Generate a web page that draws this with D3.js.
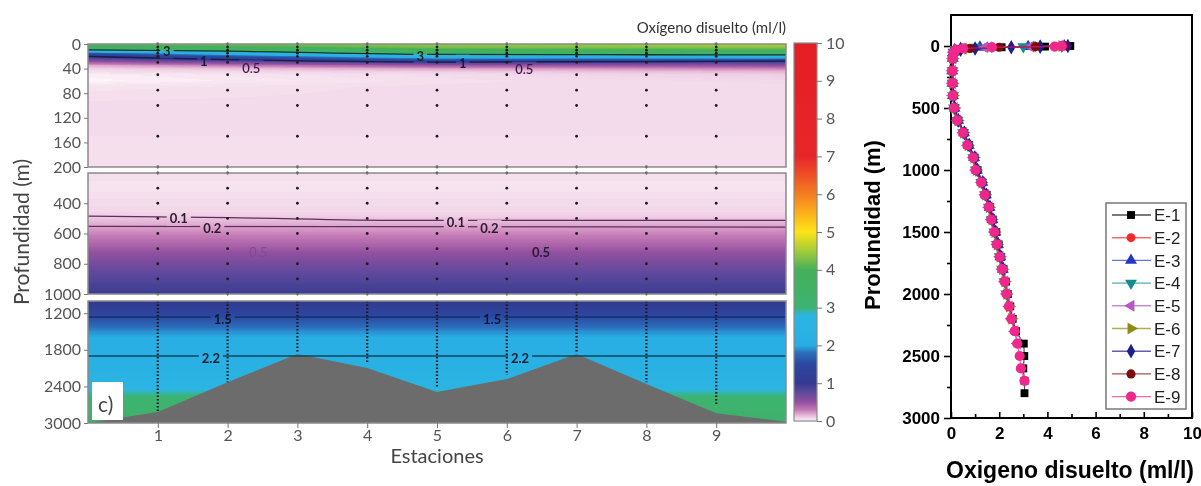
<!DOCTYPE html>
<html>
<head>
<meta charset="utf-8">
<script src="https://cdn.jsdelivr.net/npm/d3@7"></script>
<style>
body { margin: 0; background: #fff; }
svg { display: block; }
</style>
</head>
<body>
<svg id="chart" width="1201" height="486"></svg>
<script>
// ---- section data (left) ----
var stations = [1, 2, 3, 4, 5, 6, 7, 8, 9];
var stationBottom = [2820, 2330, 1840, 2020, 2400, 2210, 1850, 2330, 2700];
var sampleTop = [0, 5, 10, 15, 20, 30, 50, 75, 100, 150, 200];
var sampleMid = [200, 300, 400, 500, 600, 700, 800, 900, 1000];
var bathX = [0, 1, 2, 3, 4, 5, 6, 7, 8, 9, 10];
var bathDepth = [3000, 2820, 2330, 1870, 2100, 2490, 2280, 1870, 2360, 2840, 2980];

var tickTop = [0, 40, 80, 120, 160, 200];
var tickMid = [400, 600, 800, 1000];
var tickBot = [1200, 1800, 2400, 3000];

// oxygen field: profiles at west edge, centre and east edge of the section
var gridDepth = [0, 5, 10, 15, 20, 25, 30, 35, 40, 45, 50, 60, 70, 100, 200,
  300, 450, 485, 555, 620, 700, 800, 900, 1000,
  1100, 1200, 1300, 1400, 1500, 1600, 1800, 1900, 2100, 2300, 2400, 2500, 2600, 3000];
var o2West = [4.2, 3.7, 2.9, 1.6, 1.05, 0.7, 0.4, 0.18, 0.09, 0.05, 0.02, 0.01, 0.04, 0.06, 0.05,
  0.04, 0.07, 0.1, 0.2, 0.3, 0.45, 0.65, 0.82, 0.95,
  1.2, 1.4, 1.58, 1.75, 1.9, 2.0, 2.15, 2.2, 2.35, 2.55, 2.7, 2.9, 3.05, 3.3];
var o2Mid = [4.4, 4.3, 3.9, 3.4, 2.4, 1.7, 0.9, 0.45, 0.2, 0.1, 0.06, 0.05, 0.06, 0.06, 0.05,
  0.04, 0.07, 0.1, 0.2, 0.3, 0.45, 0.65, 0.82, 0.95,
  1.2, 1.4, 1.58, 1.75, 1.9, 2.0, 2.15, 2.2, 2.35, 2.55, 2.7, 2.9, 3.05, 3.3];
var o2East = [4.6, 4.4, 4.0, 3.5, 2.6, 1.6, 0.85, 0.5, 0.28, 0.15, 0.1, 0.07, 0.06, 0.06, 0.05,
  0.04, 0.07, 0.1, 0.2, 0.3, 0.45, 0.65, 0.82, 0.95,
  1.2, 1.4, 1.58, 1.75, 1.9, 2.0, 2.15, 2.2, 2.35, 2.55, 2.7, 2.9, 3.05, 3.3];

// contour lines (station, depth)
var c3X = [0, 2, 5, 8, 10], c3D = [9.4, 11.5, 17, 17.5, 17.8];
var c1X = [0, 2, 5, 8, 10], c1D = [20.2, 25.5, 29.4, 28.5, 28];
var c01X = [0, 2, 4.5, 10], c01D = [485, 495, 513, 513];
var c02X = [0, 10], c02D = [553, 558];
var c15X = [0, 10], c15D = [1265, 1265];
var c22X = [0, 10], c22D = [1902, 1902];

var contourLabels = [
  {t: "3", s: 1.13, d: 11.4, p: 0, w: 700, c: "#14261c"},
  {t: "1", s: 1.66, d: 29, p: 0, w: 700, c: "#151a40"},
  {t: "0.5", s: 2.34, d: 39, p: 0, w: 600, c: "#3b1b4b"},
  {t: "3", s: 4.76, d: 19.5, p: 0, w: 700, c: "#14261c"},
  {t: "1", s: 5.37, d: 31, p: 0, w: 700, c: "#151a40"},
  {t: "0.5", s: 6.25, d: 42, p: 0, w: 600, c: "#3b1b4b"},
  {t: "0.1", s: 1.30, d: 500, p: 1, w: 700, c: "#2a1a30"},
  {t: "0.2", s: 1.78, d: 567, p: 1, w: 700, c: "#2a1a30"},
  {t: "0.5", s: 2.44, d: 727, p: 1, w: 400, c: "#7d4b95"},
  {t: "0.1", s: 5.27, d: 527, p: 1, w: 700, c: "#2a1a30"},
  {t: "0.2", s: 5.75, d: 567, p: 1, w: 700, c: "#2a1a30"},
  {t: "0.5", s: 6.49, d: 727, p: 1, w: 700, c: "#2a1a3a"},
  {t: "1.5", s: 1.93, d: 1295, p: 2, w: 700, c: "#101630"},
  {t: "1.5", s: 5.79, d: 1295, p: 2, w: 700, c: "#101630"},
  {t: "2.2", s: 1.76, d: 1935, p: 2, w: 700, c: "#0d1f30"},
  {t: "2.2", s: 6.19, d: 1935, p: 2, w: 700, c: "#0d1f30"}
];

// colour map of the colour bar
var cmapVal = [0, 0.03, 0.1, 0.2, 0.3, 0.5, 0.8, 1.0, 1.5, 1.8, 2.0, 2.8, 3.0, 4.0, 4.5, 5.0, 5.5, 6.0, 6.5, 7.0, 10];
var cmapCol = ["#fefbfd", "#f8e6f1", "#efcde3", "#dca3cc", "#c278b4", "#93509f", "#57479c", "#33398f",
  "#2b48a0", "#2c6ebb", "#29aee4", "#2bb5e2", "#3cb372", "#45b058", "#a3cc3a", "#fde419",
  "#fbb01a", "#f47e20", "#ee5025", "#e7262a", "#e31e25"];
var cbarTicks = [0, 1, 2, 3, 4, 5, 6, 7, 8, 9, 10];

// ---- profile data (right) ----
var profDepth = [0, 5, 10, 20, 30, 50, 100, 200, 300, 400, 500, 600, 700, 800, 900, 1000, 1100,
  1200, 1300, 1400, 1500, 1600, 1700, 1800, 1900, 2000, 2100, 2200, 2300, 2400, 2500, 2600, 2700, 2800];
var e1 = [4.95, 3.9, 2.1, 0.6, 0.25, 0.12, 0.08, 0.06, 0.07, 0.1, 0.16, 0.3, 0.55, 0.75, 0.98, 1.1, 1.3,
  1.48, 1.62, 1.74, 1.88, 1.98, 2.08, 2.18, 2.28, 2.36, 2.46, 2.56, 2.7, 3.02, 3.04, 3.0, 3.05, 3.05];
var e2 = [4.8, 3.4, 1.5, 0.45, 0.2, 0.1, 0.07, 0.06, 0.06, 0.09, 0.14, 0.28, 0.52, 0.72, 0.95, 1.05, 1.28,
  1.42, 1.58, 1.7, 1.82, 1.92, 2.04, 2.14, 2.24, 2.32, 2.42, 2.52, 2.66];
var e3 = [4.7, 3.2, 1.2, 0.4, 0.15, 0.1, 0.07, 0.05, 0.06, 0.08, 0.15, 0.3, 0.54, 0.74, 0.96, 1.08, 1.3,
  1.45, 1.6, 1.72, 1.84, 1.95, 2.05, 2.15];
var e4 = [4.6, 3.0, 1.0, 0.35, 0.2, 0.1, 0.07, 0.06, 0.06, 0.09, 0.13, 0.27, 0.5, 0.7, 0.93, 1.03, 1.26,
  1.41, 1.57, 1.68, 1.8, 1.9, 2.02, 2.12, 2.22, 2.3];
var e5 = [4.5, 3.3, 1.4, 0.5, 0.25, 0.1, 0.08, 0.06, 0.06, 0.08, 0.14, 0.28, 0.51, 0.7, 0.94, 1.04, 1.27,
  1.42, 1.58, 1.69, 1.81, 1.91, 2.03, 2.13, 2.23, 2.31, 2.41, 2.51, 2.65, 2.76];
var e6 = [4.6, 3.6, 1.8, 0.7, 0.3, 0.12, 0.08, 0.06, 0.07, 0.09, 0.15, 0.29, 0.52, 0.71, 0.95, 1.05, 1.28,
  1.43, 1.59, 1.7, 1.82, 1.92, 2.04, 2.14, 2.24, 2.32, 2.42, 2.52];
var e7 = [4.85, 3.7, 2.5, 1.0, 0.4, 0.15, 0.08, 0.06, 0.07, 0.1, 0.16, 0.31, 0.56, 0.76, 0.99, 1.1, 1.32,
  1.47, 1.62, 1.74, 1.86, 1.96, 2.07, 2.17];
var e8 = [4.7, 3.5, 2.0, 0.8, 0.3, 0.12, 0.07, 0.06, 0.06, 0.09, 0.13, 0.27, 0.51, 0.7, 0.93, 1.04, 1.27,
  1.42, 1.58, 1.69, 1.81, 1.91, 2.03, 2.13, 2.23, 2.31, 2.41, 2.51, 2.65];
var e9 = [4.6, 4.3, 1.7, 0.5, 0.2, 0.1, 0.06, 0.05, 0.06, 0.08, 0.12, 0.25, 0.5, 0.68, 0.92, 1.02, 1.25,
  1.4, 1.57, 1.67, 1.8, 1.9, 2.02, 2.12, 2.22, 2.3, 2.4, 2.5, 2.64, 2.75, 2.85, 2.9, 3.05];
var seriesNames = ["E-1", "E-2", "E-3", "E-4", "E-5", "E-6", "E-7", "E-8", "E-9"];
var seriesColors = ["#000000", "#f52a2a", "#2436c4", "#138c8c", "#b458c4", "#8c8c14", "#1e1e8e", "#7c0a0a", "#f0288c"];
var profTicks = [0, 500, 1000, 1500, 2000, 2500, 3000];
var profMinor = [250, 750, 1250, 1750, 2250, 2750];
var o2Ticks = [0, 2, 4, 6, 8, 10];
var o2Minor = [1, 3, 5, 7, 9];

var svg = d3.select("#chart");
var defs = svg.append("defs");
var leftFont = "Lato, 'Noto Sans', sans-serif";
var rightFont = "'Liberation Sans', Arial, sans-serif";
var fmt = d3.format("d");

// ---- left section ----
var x = d3.scaleLinear().domain([0, 10]).range([88, 786]);
var panels = [
  {d0: 0, d1: 200, y0: 44, y1: 167, ticks: tickTop},
  {d0: 200, d1: 1000, y0: 173, y1: 294, ticks: tickMid},
  {d0: 1000, d1: 3000, y0: 301, y1: 423, ticks: tickBot}
];
panels.forEach(function(p, i) {
  p.y = d3.scaleLinear().domain([p.d0, p.d1]).range([p.y0, p.y1]);
  defs.append("clipPath").attr("id", "clip" + i)
    .append("rect").attr("x", x(0)).attr("y", p.y0).attr("width", x(10) - x(0)).attr("height", p.y1 - p.y0);
});

var cmap = d3.scaleLinear().domain(cmapVal).range(cmapCol).clamp(true);
var lut = d3.range(0, 1001).map(function(i) { return d3.rgb(cmap(i / 100)); });

function profileAt(arr, d) {
  var i = d3.bisectRight(gridDepth, d);
  if (i <= 0) return arr[0];
  if (i >= gridDepth.length) return arr[arr.length - 1];
  var t = (d - gridDepth[i - 1]) / (gridDepth[i] - gridDepth[i - 1]);
  return arr[i - 1] + t * (arr[i] - arr[i - 1]);
}

// raster of the oxygen field
var cw = Math.round(x(10) - x(0)), ch = 423 - 44;
var canvas = document.createElement("canvas");
canvas.width = cw; canvas.height = ch;
var ctx = canvas.getContext("2d");
var img = ctx.createImageData(cw, ch);
for (var py = 0; py < ch; py++) {
  var Y = 44 + py + 0.5;
  var p = panels.filter(function(q) { return Y >= q.y0 && Y <= q.y1; })[0];
  if (!p) continue;
  var dep = p.y.invert(Y);
  var w = profileAt(o2West, dep), m = profileAt(o2Mid, dep), e = profileAt(o2East, dep);
  for (var px = 0; px < cw; px++) {
    var s = x.invert(x(0) + px + 0.5);
    var v = s < 5 ? w + (m - w) * s / 5 : m + (e - m) * (s - 5) / 5;
    var c = lut[Math.max(0, Math.min(1000, Math.round(v * 100)))];
    var k = (py * cw + px) * 4;
    img.data[k] = c.r; img.data[k + 1] = c.g; img.data[k + 2] = c.b; img.data[k + 3] = 255;
  }
}
ctx.putImageData(img, 0, 0);
svg.append("image").attr("href", canvas.toDataURL())
  .attr("x", x(0)).attr("y", 44).attr("width", cw).attr("height", ch);

// bathymetry
var bot = panels[2];
svg.append("path")
  .datum(bathX.map(function(s, i) { return [s, bathDepth[i]]; }))
  .attr("clip-path", "url(#clip2)")
  .attr("fill", "#6c6c6c")
  .attr("d", d3.area().x(function(d) { return x(d[0]); }).y0(bot.y(3000)).y1(function(d) { return bot.y(d[1]); }));

// contour lines with gaps under labels
var mask = defs.append("mask").attr("id", "gapMask").attr("maskUnits", "userSpaceOnUse")
  .attr("x", 0).attr("y", 0).attr("width", 1201).attr("height", 486);
mask.append("rect").attr("width", 1201).attr("height", 486).attr("fill", "white");

var contours = [
  {xs: c3X, ds: c3D, p: 0, c: "#17331f"},
  {xs: c1X, ds: c1D, p: 0, c: "#1a1d45"},
  {xs: c01X, ds: c01D, p: 1, c: "#5a2f62"},
  {xs: c02X, ds: c02D, p: 1, c: "#5a2f62"},
  {xs: c15X, ds: c15D, p: 2, c: "#1a2560"},
  {xs: c22X, ds: c22D, p: 2, c: "#11465e"}
];
var cg = svg.append("g").attr("mask", "url(#gapMask)");
contours.forEach(function(ct) {
  var pp = panels[ct.p];
  var line = d3.line().curve(d3.curveMonotoneX)
    .x(function(d) { return x(d[0]); }).y(function(d) { return pp.y(d[1]); });
  cg.append("path")
    .datum(ct.xs.map(function(s, i) { return [s, ct.ds[i]]; }))
    .attr("clip-path", "url(#clip" + ct.p + ")")
    .attr("fill", "none").attr("stroke", ct.c).attr("stroke-width", 1.3)
    .attr("d", line);
});

var labs = svg.append("g").selectAll("text").data(contourLabels).enter().append("text")
  .attr("x", function(d) { return x(d.s); })
  .attr("y", function(d) { return panels[d.p].y(d.d); })
  .attr("dy", "0.35em").attr("text-anchor", "middle")
  .style("font-family", leftFont).style("font-size", "13px")
  .style("font-weight", function(d) { return d.w; })
  .attr("fill", function(d) { return d.c; })
  .text(function(d) { return d.t; });
labs.each(function() {
  var b = this.getBBox();
  mask.append("rect").attr("x", b.x - 3).attr("y", b.y).attr("width", b.width + 6).attr("height", b.height).attr("fill", "black");
});

// sampling points
var dots = svg.append("g").attr("fill", "#1c1c1c");
stations.forEach(function(st, i) {
  sampleTop.forEach(function(d) {
    dots.append("circle").attr("cx", x(st)).attr("cy", panels[0].y(d)).attr("r", 1.4);
  });
  sampleMid.forEach(function(d) {
    dots.append("circle").attr("cx", x(st)).attr("cy", panels[1].y(d)).attr("r", 1.4);
  });
  svg.append("line")
    .attr("x1", x(st)).attr("x2", x(st))
    .attr("y1", bot.y(1000)).attr("y2", bot.y(stationBottom[i]))
    .attr("stroke", "#1a1a1a").attr("stroke-width", 2.2)
    .attr("stroke-dasharray", "1.6 1.9");
});

// "c)" tag
svg.append("rect").attr("x", 92).attr("y", 382).attr("width", 31).attr("height", 38).attr("fill", "#fff");
svg.append("text").attr("x", 98).attr("y", 412).text("c)")
  .style("font-family", leftFont).style("font-size", "21px").attr("fill", "#444");

// panel frames and depth axes
panels.forEach(function(p) {
  svg.append("rect").attr("x", x(0)).attr("y", p.y0).attr("width", x(10) - x(0)).attr("height", p.y1 - p.y0)
    .attr("fill", "none").attr("stroke", "#8a8a8a").attr("stroke-width", 1.5);
  var ax = svg.append("g").attr("transform", "translate(" + x(0) + ",0)")
    .call(d3.axisLeft(p.y).tickValues(p.ticks).tickFormat(fmt).tickSize(4).tickPadding(3));
  ax.select(".domain").remove();
  ax.selectAll("line").attr("stroke", "#777");
  ax.selectAll("text").style("font-family", leftFont).style("font-size", "16px").attr("fill", "#555");
});

var xa = svg.append("g").attr("transform", "translate(0,423)")
  .call(d3.axisBottom(x).tickValues(stations).tickFormat(fmt).tickSize(5).tickPadding(2));
xa.select(".domain").remove();
xa.selectAll("line").attr("stroke", "#777");
xa.selectAll("text").style("font-family", leftFont).style("font-size", "16px").attr("fill", "#555");

svg.append("text").attr("x", 437).attr("y", 463).attr("text-anchor", "middle").text("Estaciones")
  .style("font-family", leftFont).style("font-size", "20px").attr("fill", "#444");
svg.append("text").attr("transform", "translate(29,232) rotate(-90)").attr("text-anchor", "middle")
  .text("Profundidad (m)")
  .style("font-family", leftFont).style("font-size", "21px").attr("fill", "#444");
svg.append("text").attr("x", 786).attr("y", 33).attr("text-anchor", "end").text("Oxígeno disuelto (ml/l)")
  .style("font-family", leftFont).style("font-size", "15px").attr("fill", "#333");

// colour bar
var cb = d3.scaleLinear().domain([0, 10]).range([421, 43]);
var grad = defs.append("linearGradient").attr("id", "cbGrad")
  .attr("x1", 0).attr("y1", 1).attr("x2", 0).attr("y2", 0);
cmapVal.forEach(function(v, i) {
  grad.append("stop").attr("offset", v / 10).attr("stop-color", cmapCol[i]);
});
svg.append("rect").attr("x", 794).attr("y", cb(10)).attr("width", 23).attr("height", cb(0) - cb(10))
  .attr("fill", "url(#cbGrad)").attr("stroke", "#8a8a8a").attr("stroke-width", 1.2);
var cba = svg.append("g").attr("transform", "translate(817,0)")
  .call(d3.axisRight(cb).tickValues(cbarTicks).tickSize(5).tickPadding(4));
cba.select(".domain").remove();
cba.selectAll("line").attr("stroke", "#777");
cba.selectAll("text").style("font-family", leftFont).style("font-size", "16px").attr("fill", "#555");

// ---- right profile plot ----
var xo = d3.scaleLinear().domain([0, 10]).range([951, 1192]);
var yo = d3.scaleLinear().domain([-250, 3000]).range([15, 418]);

var ya = svg.append("g").attr("transform", "translate(951,0)")
  .call(d3.axisLeft(yo).tickValues(profTicks).tickFormat(fmt).tickSize(7).tickPadding(4));
svg.append("g").attr("transform", "translate(951,0)")
  .call(d3.axisLeft(yo).tickValues(profMinor).tickSize(4).tickFormat(""))
  .select(".domain").remove();
ya.select(".domain").remove();
var xb = svg.append("g").attr("transform", "translate(0,418)")
  .call(d3.axisBottom(xo).tickValues(o2Ticks).tickFormat(fmt).tickSizeInner(-6).tickSizeOuter(0).tickPadding(9));
svg.append("g").attr("transform", "translate(0,418)")
  .call(d3.axisBottom(xo).tickValues(o2Minor).tickSizeInner(-4).tickSizeOuter(0).tickFormat(""))
  .select(".domain").remove();
xb.select(".domain").remove();
svg.selectAll(".tick line").filter(function() { return this.getBoundingClientRect().x > 880; })
  .attr("stroke", "#000").attr("stroke-width", 1.6);
[ya, xb].forEach(function(a) {
  a.selectAll("text").style("font-family", rightFont).style("font-size", "17px")
    .style("font-weight", "bold").attr("fill", "#000");
});
svg.append("rect").attr("x", 951).attr("y", 15).attr("width", 1192 - 951).attr("height", 418 - 15)
  .attr("fill", "none").attr("stroke", "#000").attr("stroke-width", 2);

var shapes = [
  {t: d3.symbolSquare, r: 0, s: 62},
  {t: d3.symbolCircle, r: 0, s: 62},
  {t: d3.symbolTriangle, r: 0, s: 62},
  {t: d3.symbolTriangle, r: 180, s: 62},
  {t: d3.symbolTriangle, r: -90, s: 62},
  {t: d3.symbolTriangle, r: 90, s: 62},
  {t: d3.symbolDiamond, r: 0, s: 62},
  {t: d3.symbolCircle, r: 0, s: 66},
  {t: d3.symbolCircle, r: 0, s: 82}
];
var allSeries = [e1, e2, e3, e4, e5, e6, e7, e8, e9];
var pline = d3.line().x(function(d) { return xo(d[0]); }).y(function(d) { return yo(d[1]); });

allSeries.forEach(function(vals, i) {
  var pts = vals.map(function(v, j) { return [v, profDepth[j]]; });
  var g = svg.append("g");
  g.append("path").datum(pts).attr("fill", "none").attr("stroke", seriesColors[i])
    .attr("stroke-opacity", 0.7).attr("stroke-width", 1.2).attr("d", pline);
  g.selectAll("path.m").data(pts).enter().append("path").attr("class", "m")
    .attr("transform", function(d) { return "translate(" + xo(d[0]) + "," + yo(d[1]) + ") rotate(" + shapes[i].r + ")"; })
    .attr("d", d3.symbol().type(shapes[i].t).size(shapes[i].s))
    .attr("fill", seriesColors[i]);
});

// legend
var leg = svg.append("g");
leg.append("rect").attr("x", 1106).attr("y", 203).attr("width", 80).attr("height", 206)
  .attr("fill", "#fff").attr("stroke", "#777").attr("stroke-width", 1.5);
seriesNames.forEach(function(n, i) {
  var yy = 215 + i * 22.7;
  leg.append("line").attr("x1", 1112).attr("x2", 1151).attr("y1", yy).attr("y2", yy)
    .attr("stroke", seriesColors[i]).attr("stroke-opacity", 0.7).attr("stroke-width", 1.4);
  leg.append("path").attr("transform", "translate(1131," + yy + ") rotate(" + shapes[i].r + ")")
    .attr("d", d3.symbol().type(shapes[i].t).size(shapes[i].s)).attr("fill", seriesColors[i]);
  leg.append("text").attr("x", 1154).attr("y", yy).attr("dy", "0.36em").text(n)
    .style("font-family", rightFont).style("font-size", "17px").attr("fill", "#222");
});

svg.append("text").attr("transform", "translate(880,225) rotate(-90)").attr("text-anchor", "middle")
  .text("Profundidad (m)")
  .style("font-family", rightFont).style("font-size", "22px").style("font-weight", "bold");
svg.append("text").attr("x", 1070).attr("y", 478).attr("text-anchor", "middle")
  .text("Oxigeno disuelto (ml/l)")
  .style("font-family", rightFont).style("font-size", "23px").style("font-weight", "bold");
</script>
</body>
</html>
